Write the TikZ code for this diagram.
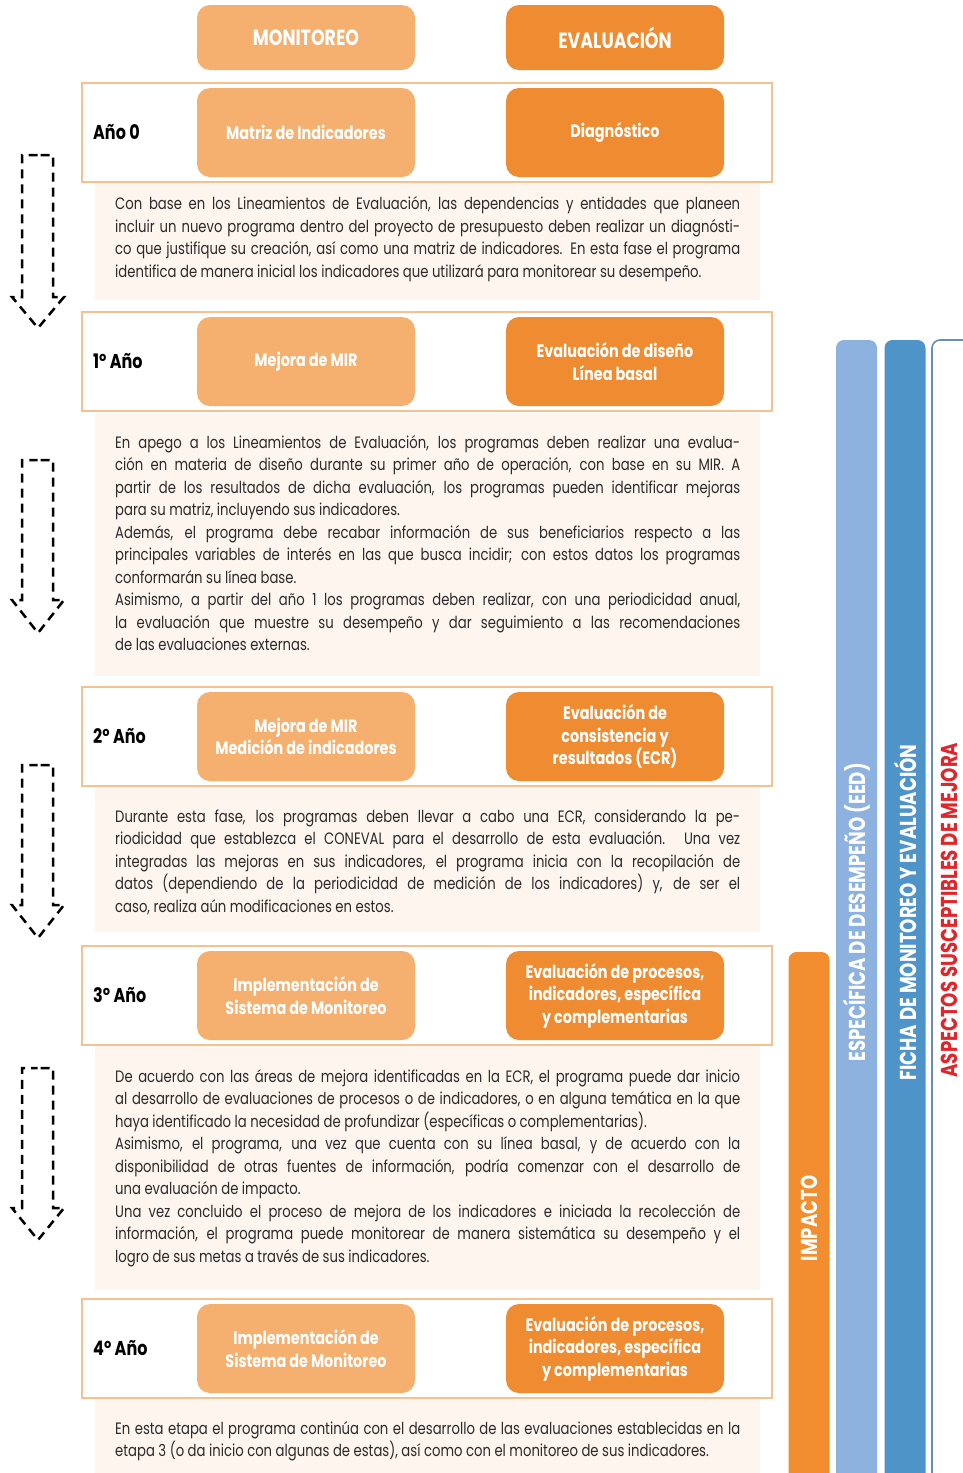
\documentclass[tikz,border=0pt]{standalone}
\usepackage{fontspec}
\setmainfont{Poppins}[FakeStretch=0.8]
\newfontfamily\capsfont{Poppins}[FakeStretch=0.79]
\definecolor{lightor}{HTML}{F5AF6F}
\definecolor{darkor}{HTML}{EF8C32}
\definecolor{creamc}{HTML}{FDF5EE}
\definecolor{framec}{HTML}{F4C190}
\definecolor{bodyc}{HTML}{2A2A2A}
\definecolor{eedc}{HTML}{8DB2E0}
\definecolor{fichac}{HTML}{4E94C9}
\definecolor{asmc}{HTML}{6B8CB4}
\definecolor{asmtext}{HTML}{E0262B}
\definecolor{impc}{HTML}{F28E2F}
\newsavebox\lbox
\newlength\LW \setlength\LW{625pt}
\newlength\natw
\newcommand\jl[1]{\sbox\lbox{#1}\setlength\natw{\wd\lbox}%
  \ifdim\natw>\LW\pgfmathsetmacro\rr{\LW/\natw}%
    \hbox{\vrule height14pt depth0pt width0pt\relax\scalebox{\rr}[1]{\usebox\lbox}}%
  \else\hbox to\LW{\spaceskip=\fontdimen2\font plus 2\fontdimen2\font minus 0.3\fontdimen2\font\relax
    \vrule height14pt depth0pt width0pt\relax#1}\fi}
\newcommand\el[1]{\hbox{\vrule height14pt depth0pt width0pt\relax#1}}
\newcommand\para[1]{\vbox{\hsize=\LW\baselineskip=22.5pt\lineskiplimit=-20pt\parindent=0pt #1}}
\begin{document}
\begin{tikzpicture}[x=1pt,y=-1pt,
 hdr/.style={rounded corners=13pt, minimum width=218pt, minimum height=65pt, text=white, font=\capsfont\bfseries\fontsize{22}{26}\selectfont, inner sep=0pt},
 mbox/.style={rounded corners=13pt, minimum width=218pt, minimum height=89pt, text=white, font=\bfseries\fontsize{18}{22.5}\selectfont, align=center, inner sep=0pt},
 yframe/.style={draw=framec, line width=1.3pt, fill=white, minimum width=690pt, minimum height=99pt, inner sep=0pt},
 ylabel/.style={anchor=west, font=\bfseries\fontsize{20}{24}\selectfont, inner sep=0pt},
 body/.style={anchor=north west, inner sep=0pt, text=bodyc, font=\fontsize{16.5}{22.5}\selectfont},
 darrow/.style={draw=black, line width=2.5pt, dash pattern=on 9pt off 6pt, dash phase=12pt},
 vbar/.style={rotate=90, rounded corners=8pt, inner sep=0pt, minimum height=41pt, font=\capsfont\bfseries\fontsize{23}{24}\selectfont, text=white},
]
\useasboundingbox (0,0) rectangle (963,1473);
\fill[white] (0,0) rectangle (963,1473);
% cream text backgrounds
\fill[creamc] (95,182) rectangle (760,300);
\fill[creamc] (95,413) rectangle (760,676);
\fill[creamc] (95,786) rectangle (760,932);
\fill[creamc] (95,1045) rectangle (760,1290);
\fill[creamc] (95,1398) rectangle (760,1480);
% header
\node[hdr, fill=lightor] (hmon) at (306,37.5) {MONITOREO};
\node[hdr, fill=darkor] (heval) at (615,37.5) {EVALUACIÓN};
% year 0
\node[yframe] (f0) at (427,132.5) {};
\node[ylabel] (y0) at (93,132.5) {Año 0};
\node[mbox, fill=lightor] (m0) at (306,132.5) {Matriz de Indicadores};
\node[mbox, fill=darkor] (e0) at (615,132.5) {Diagnóstico};
\node[body] (t0) at (115,195.5) {\para{%
\jl{Con base en los Lineamientos de Evaluación, las dependencias y entidades que planeen}
\jl{incluir un nuevo programa dentro del proyecto de presupuesto deben realizar un diagnósti-}
\jl{co que justifique su creación, así como una matriz de indicadores. En esta fase el programa}
\el{identifica de manera inicial los indicadores que utilizará para monitorear su desempeño.}}};
% year 1
\node[yframe] (f1) at (427,361.5) {};
\node[ylabel] (y1) at (93,361.5) {1º Año};
\node[mbox, fill=lightor] (m1) at (306,361.5) {Mejora de MIR};
\node[mbox, fill=darkor] (e1) at (615,361.5) {Evaluación de diseño\\Línea basal};
\node[body] (t1) at (115,434) {\para{%
\jl{En apego a los Lineamientos de Evaluación, los programas deben realizar una evalua-}
\jl{ción en materia de diseño durante su primer año de operación, con base en su MIR. A}
\jl{partir de los resultados de dicha evaluación, los programas pueden identificar mejoras}
\el{para su matriz, incluyendo sus indicadores.}
\jl{Además, el programa debe recabar información de sus beneficiarios respecto a las}
\jl{principales variables de interés en las que busca incidir; con estos datos los programas}
\el{conformarán su línea base.}
\jl{Asimismo, a partir del año 1 los programas deben realizar, con una periodicidad anual,}
\jl{la evaluación que muestre su desempeño y dar seguimiento a las recomendaciones}
\el{de las evaluaciones externas.}}};
% year 2
\node[yframe] (f2) at (427,736.5) {};
\node[ylabel] (y2) at (93,736.5) {2º Año};
\node[mbox, fill=lightor] (m2) at (306,736.5) {Mejora de MIR\\Medición de indicadores};
\node[mbox, fill=darkor] (e2) at (615,736.5) {Evaluación de\\consistencia y\\resultados (ECR)};
\node[body] (t2) at (115,808) {\para{%
\jl{Durante esta fase, los programas deben llevar a cabo una ECR, considerando la pe-}
\jl{riodicidad que establezca el CONEVAL para el desarrollo de esta evaluación. Una vez}
\jl{integradas las mejoras en sus indicadores, el programa inicia con la recopilación de}
\jl{datos (dependiendo de la periodicidad de medición de los indicadores) y, de ser el}
\el{caso, realiza aún modificaciones en estos.}}};
% year 3
\node[yframe] (f3) at (427,995.5) {};
\node[ylabel] (y3) at (93,995.5) {3º Año};
\node[mbox, fill=lightor] (m3) at (306,995.5) {Implementación de\\Sistema de Monitoreo};
\node[mbox, fill=darkor] (e3) at (615,995.5) {Evaluación de procesos,\\indicadores, específica\\y complementarias};
\node[body] (t3) at (115,1068) {\para{%
\jl{De acuerdo con las áreas de mejora identificadas en la ECR, el programa puede dar inicio}
\jl{al desarrollo de evaluaciones de procesos o de indicadores, o en alguna temática en la que}
\el{haya identificado la necesidad de profundizar (específicas o complementarias).}
\jl{Asimismo, el programa, una vez que cuenta con su línea basal, y de acuerdo con la}
\jl{disponibilidad de otras fuentes de información, podría comenzar con el desarrollo de}
\el{una evaluación de impacto.}
\jl{Una vez concluido el proceso de mejora de los indicadores e iniciada la recolección de}
\jl{información, el programa puede monitorear de manera sistemática su desempeño y el}
\el{logro de sus metas a través de sus indicadores.}}};
% year 4
\node[yframe] (f4) at (427,1348.5) {};
\node[ylabel] (y4) at (93,1348.5) {4º Año};
\node[mbox, fill=lightor] (m4) at (306,1348.5) {Implementación de\\Sistema de Monitoreo};
\node[mbox, fill=darkor] (e4) at (615,1348.5) {Evaluación de procesos,\\indicadores, específica\\y complementarias};
\node[body] (t4) at (115,1420) {\para{%
\jl{En esta etapa el programa continúa con el desarrollo de las evaluaciones establecidas en la}
\el{etapa 3 (o da inicio con algunas de estas), así como con el monitoreo de sus indicadores.}}};
% dashed down arrows
\foreach \t/\b/\p in {155/297/328, 460/600/633, 765/905/938, 1068/1208/1240}{
  \draw[darrow] (37.5,\t) -- (53,\t) -- (53,\b) -- (64,\b) -- (38,\p) -- (12,\b) -- (22,\b) -- (22,\t) -- cycle;
}
% right bars
\node[vbar, fill=impc, minimum width=533pt] (imp) at (809,1218.5) {IMPACTO};
\node[vbar, fill=eedc, minimum width=1145pt] (eed) at (856.5,912.5) {ESPECÍFICA DE DESEMPEÑO (EED)};
\node[vbar, fill=fichac, minimum width=1145pt] (ficha) at (905,912.5) {FICHA DE MONITOREO Y EVALUACIÓN};
\node[vbar, draw=asmc, line width=1.6pt, fill=white, minimum height=48pt, minimum width=1145pt] (asm) at (956,912.5) {};
\node[rotate=90, inner sep=0pt, text=asmtext, font=\capsfont\bfseries\fontsize{23}{24}\selectfont] (asmt) at (949,910) {ASPECTOS SUSCEPTIBLES DE MEJORA};
\end{tikzpicture}
\end{document}
